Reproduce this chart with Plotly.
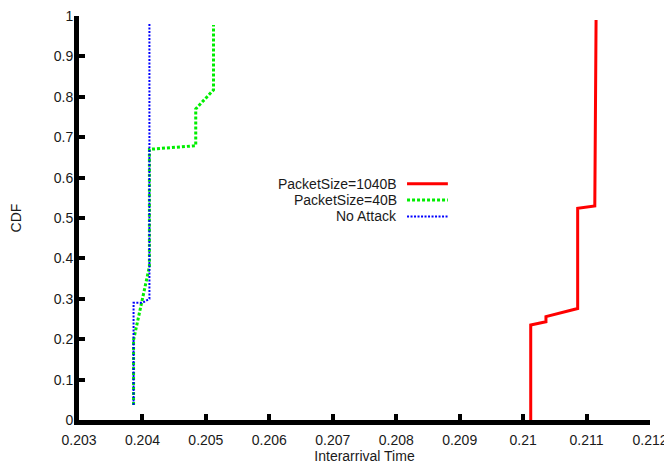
import plotly.graph_objects as go

# Data (x: interarrival time, y: CDF)
red_x = [0.21012, 0.21012, 0.21036, 0.21036, 0.21086, 0.21086, 0.21113, 0.21115]
red_y = [0.0, 0.235, 0.243, 0.256, 0.276, 0.524, 0.530, 0.99]

green_x = [0.20386, 0.20386, 0.20411, 0.20411, 0.20484, 0.20484, 0.20512, 0.20512]
green_y = [0.037, 0.198, 0.38, 0.67, 0.679, 0.77, 0.817, 0.978]

blue_x = [0.20386, 0.20386, 0.20400, 0.20411, 0.20411]
blue_y = [0.037, 0.29, 0.29, 0.30, 0.98]

names = ["PacketSize=1040B", "PacketSize=40B", "No Attack"]
colors = ["#ff0000", "#00ee00", "#0000ff"]
dashes = ["solid", "3px,2px", "2px,1.5px"]
widths = [3, 3, 2]

x_ticks = [0.203, 0.204, 0.205, 0.206, 0.207, 0.208, 0.209, 0.210, 0.211, 0.212]
x_labels = ["0.203", "0.204", "0.205", "0.206", "0.207", "0.208", "0.209", "0.21", "0.211", "0.212"]
y_ticks = [0, 0.1, 0.2, 0.3, 0.4, 0.5, 0.6, 0.7, 0.8, 0.9, 1]
y_labels = ["0", "0.1", "0.2", "0.3", "0.4", "0.5", "0.6", "0.7", "0.8", "0.9", "1"]

FONT = "Liberation Sans, Arial, sans-serif"
FS = 14

fig = go.Figure()
for xs, ys, n, c, d, w in zip([red_x, green_x, blue_x], [red_y, green_y, blue_y],
                              names, colors, dashes, widths):
    fig.add_trace(go.Scatter(x=xs, y=ys, mode="lines", name=n,
                             line=dict(color=c, width=w, dash=d), showlegend=False))

# Gnuplot-style legend: right-aligned text with sample on the right
leg_y = [0.585, 0.5446, 0.504]
for n, c, d, w, yy in zip(names, colors, dashes, widths, leg_y):
    fig.add_annotation(x=0.559, y=yy, xref="paper", yref="paper", text=n,
                       showarrow=False, xanchor="right", yanchor="middle",
                       height=14, borderpad=0,
                       font=dict(family=FONT, size=FS, color="#1a1a1a"))
    fig.add_shape(type="line", xref="paper", yref="paper", x0=0.5745, x1=0.646,
                  y0=yy, y1=yy, line=dict(color=c, width=w, dash=d))

# the page body adds an 8px margin, so the figure is sized to fit the window
fig.update_layout(
    width=664, height=457,
    margin=dict(l=71, r=22, t=8, b=45),
    paper_bgcolor="white", plot_bgcolor="white",
    font=dict(family=FONT, size=FS, color="#1a1a1a"),
    xaxis=dict(range=[0.203, 0.212], tickvals=x_ticks, ticktext=x_labels,
               showgrid=False, zeroline=False, showline=True, linewidth=5,
               linecolor="black", ticks="inside", ticklen=6, tickwidth=4,
               tickcolor="black", automargin=False, ticklabelstandoff=3,
               ticklabeloverflow="allow",
               title=dict(text="Interarrival Time", standoff=3,
                          font=dict(size=FS))),
    yaxis=dict(range=[0, 1], tickvals=y_ticks, ticktext=y_labels,
               showgrid=False, zeroline=False, showline=True, linewidth=5,
               linecolor="black", ticks="inside", ticklen=6, tickwidth=4,
               tickcolor="black", automargin=False, ticklabelstandoff=-2,
               ticklabeloverflow="allow",
               title=dict(text="CDF", standoff=36, font=dict(size=FS))),
)

fig.write_html("out.html")
